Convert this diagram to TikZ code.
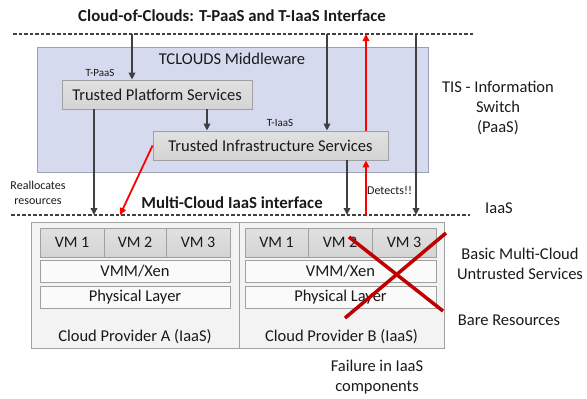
\documentclass[tikz,border=0pt]{standalone}
\usepackage{fontspec}
\setmainfont{Carlito}
\usetikzlibrary{arrows.meta}
\definecolor{darkg}{HTML}{404040}
\definecolor{mwfill}{HTML}{D5DAEE}
\definecolor{mwdraw}{HTML}{9A9FB3}
\definecolor{boxfill}{HTML}{D4D4D4}
\definecolor{boxdraw}{HTML}{A0A0A0}
\definecolor{cloudfill}{HTML}{F3F3F3}
\definecolor{xred}{HTML}{C00000}
\definecolor{txt}{HTML}{1A1A1A}
\begin{document}
\begin{tikzpicture}[x=1pt,y=-1pt,
  every node/.style={text=txt, inner sep=0pt},
  arr/.style={draw=darkg, line width=1.8pt, -{Triangle[length=7pt,width=6.5pt]}},
  redarr/.style={draw=red, line width=1.8pt, -{Triangle[length=7pt,width=6.5pt]}},
  dashln/.style={draw=darkg, line width=1.6pt, dash pattern=on 3.5pt off 2pt},
  mwbox/.style={draw=mwdraw, fill=mwfill, line width=0.8pt},
  svcbox/.style={draw=boxdraw, top color=boxfill!70!white, bottom color=boxfill, line width=0.8pt, font=\fontsize{16.5}{18}\selectfont},
  cloudbox/.style={draw=boxdraw, fill=cloudfill, line width=0.8pt},
  vmbox/.style={draw=boxdraw, top color=boxfill!70!white, bottom color=boxfill, line width=0.8pt, minimum height=29pt, font=\fontsize{16}{18}\selectfont},
  layerbox/.style={draw=boxdraw, fill=white!60!cloudfill, line width=0.8pt, minimum height=22pt, font=\fontsize{16.5}{18}\selectfont},
  small/.style={font=\fontsize{11}{13}\selectfont},
  smallb/.style={font=\fontsize{12}{15}\selectfont},
  lbl/.style={font=\fontsize{16.5}{20}\selectfont, align=center},
  bold/.style={font=\fontsize{16.8}{18}\selectfont\bfseries}
]
\useasboundingbox (0,0) rectangle (587,399);

% title and top interface line
\node[bold] (title) at (232,16) {Cloud-of-Clouds: T-PaaS and T-IaaS Interface};
\coordinate (topL) at (13,34);
\coordinate (topR) at (473,34);
\draw[dashln] (topL) -- (topR);

% middleware
\node[mwbox, minimum width=391pt, minimum height=125pt] (mw) at (232.5,109.5) {};
\node[lbl] (mwlabel) at (232,59) {TCLOUDS Middleware};
\node[small] (tpaas) at (100,73) {T-PaaS};
\node[svcbox, minimum width=190pt, minimum height=29pt] (tps) at (157,94.5) {Trusted Platform Services};
\node[small] (tiaas) at (280,123) {T-IaaS};
\node[svcbox, minimum width=235pt, minimum height=29pt] (tis) at (270.5,145.5) {Trusted Infrastructure Services};

% bottom interface line
\coordinate (botL) at (11,215);
\coordinate (botR) at (470,215);
\draw[dashln] (botL) -- (botR);
\node[bold] (mciaas) at (232,203) {Multi-Cloud IaaS interface};

% cloud providers
\node[cloudbox, minimum width=208pt, minimum height=126pt] (cpa) at (135,285) {};
\node[cloudbox, minimum width=205pt, minimum height=126pt] (cpb) at (341.5,285) {};

\node[vmbox, minimum width=64pt] (a1) at (72,242.5) {VM 1};
\node[vmbox, minimum width=62pt] (a2) at (135,242.5) {VM 2};
\node[vmbox, minimum width=64pt] (a3) at (198,242.5) {VM 3};
\node[layerbox, minimum width=190pt] (avmm) at (135,271) {VMM/Xen};
\node[layerbox, minimum width=190pt] (aphy) at (135,297) {Physical Layer};
\node[lbl] (alab) at (135,337) {Cloud Provider A (IaaS)};

\node[vmbox, minimum width=63pt] (b1) at (276.5,242.5) {VM 1};
\node[vmbox, minimum width=64pt] (b2) at (340,242.5) {VM 2};
\node[vmbox, minimum width=64pt] (b3) at (404,242.5) {VM 3};
\node[layerbox, minimum width=191pt] (bvmm) at (340.5,271) {VMM/Xen};
\node[layerbox, minimum width=191pt] (bphy) at (340.5,297) {Physical Layer};
\node[lbl] (blab) at (341.5,337) {Cloud Provider B (IaaS)};

% failure cross
\draw[xred, line width=3.5pt] (349,237) -- (443,311);
\draw[xred, line width=3.5pt] (446,233) -- (345,318);

% connectors
\coordinate (t1) at (132,34);
\draw[arr] (t1) -- (t1 |- tps.north);
\draw[arr] ([xshift=50pt]tps.south) -- ([xshift=50pt]tps.south |- tis.north);
\coordinate (t2) at (327,34);
\draw[arr] (t2) -- (t2 |- tis.north);
\coordinate (t3) at (366,34);
\draw[redarr] (t3 |- tis.north) -- (t3);
\coordinate (t4) at (416,34);
\coordinate (b4) at (416,215);
\draw[arr] (t4) -- (b4);
\coordinate (b1) at (94,215);
\draw[arr] (tps.south -| b1) -- (b1);
\coordinate (bred) at (120,215);
\draw[redarr] (tis.west) -- (bred);
\coordinate (b2) at (347,215);
\draw[arr] (tis.south -| b2) -- (b2);
\coordinate (b3) at (366,215);
\draw[redarr] (b3) -- (b3 |- tis.south);

% side labels
\node[smallb, anchor=west] (det) at (367,190) {Detects!!};
\node[smallb, align=center] (realloc) at (38,193) {Reallocates\\resources};
\node[lbl] (tislab) at (498,108) {TIS - Information\\Switch\\(PaaS)};
\node[lbl] (iaas) at (499,208) {IaaS};
\node[lbl] (basic) at (520,263.5) {Basic Multi-Cloud\\Untrusted Services};
\node[lbl] (bare) at (509,320) {Bare Resources};
\node[lbl] (fail) at (377,377) {Failure in IaaS\\components};
\end{tikzpicture}
\end{document}
